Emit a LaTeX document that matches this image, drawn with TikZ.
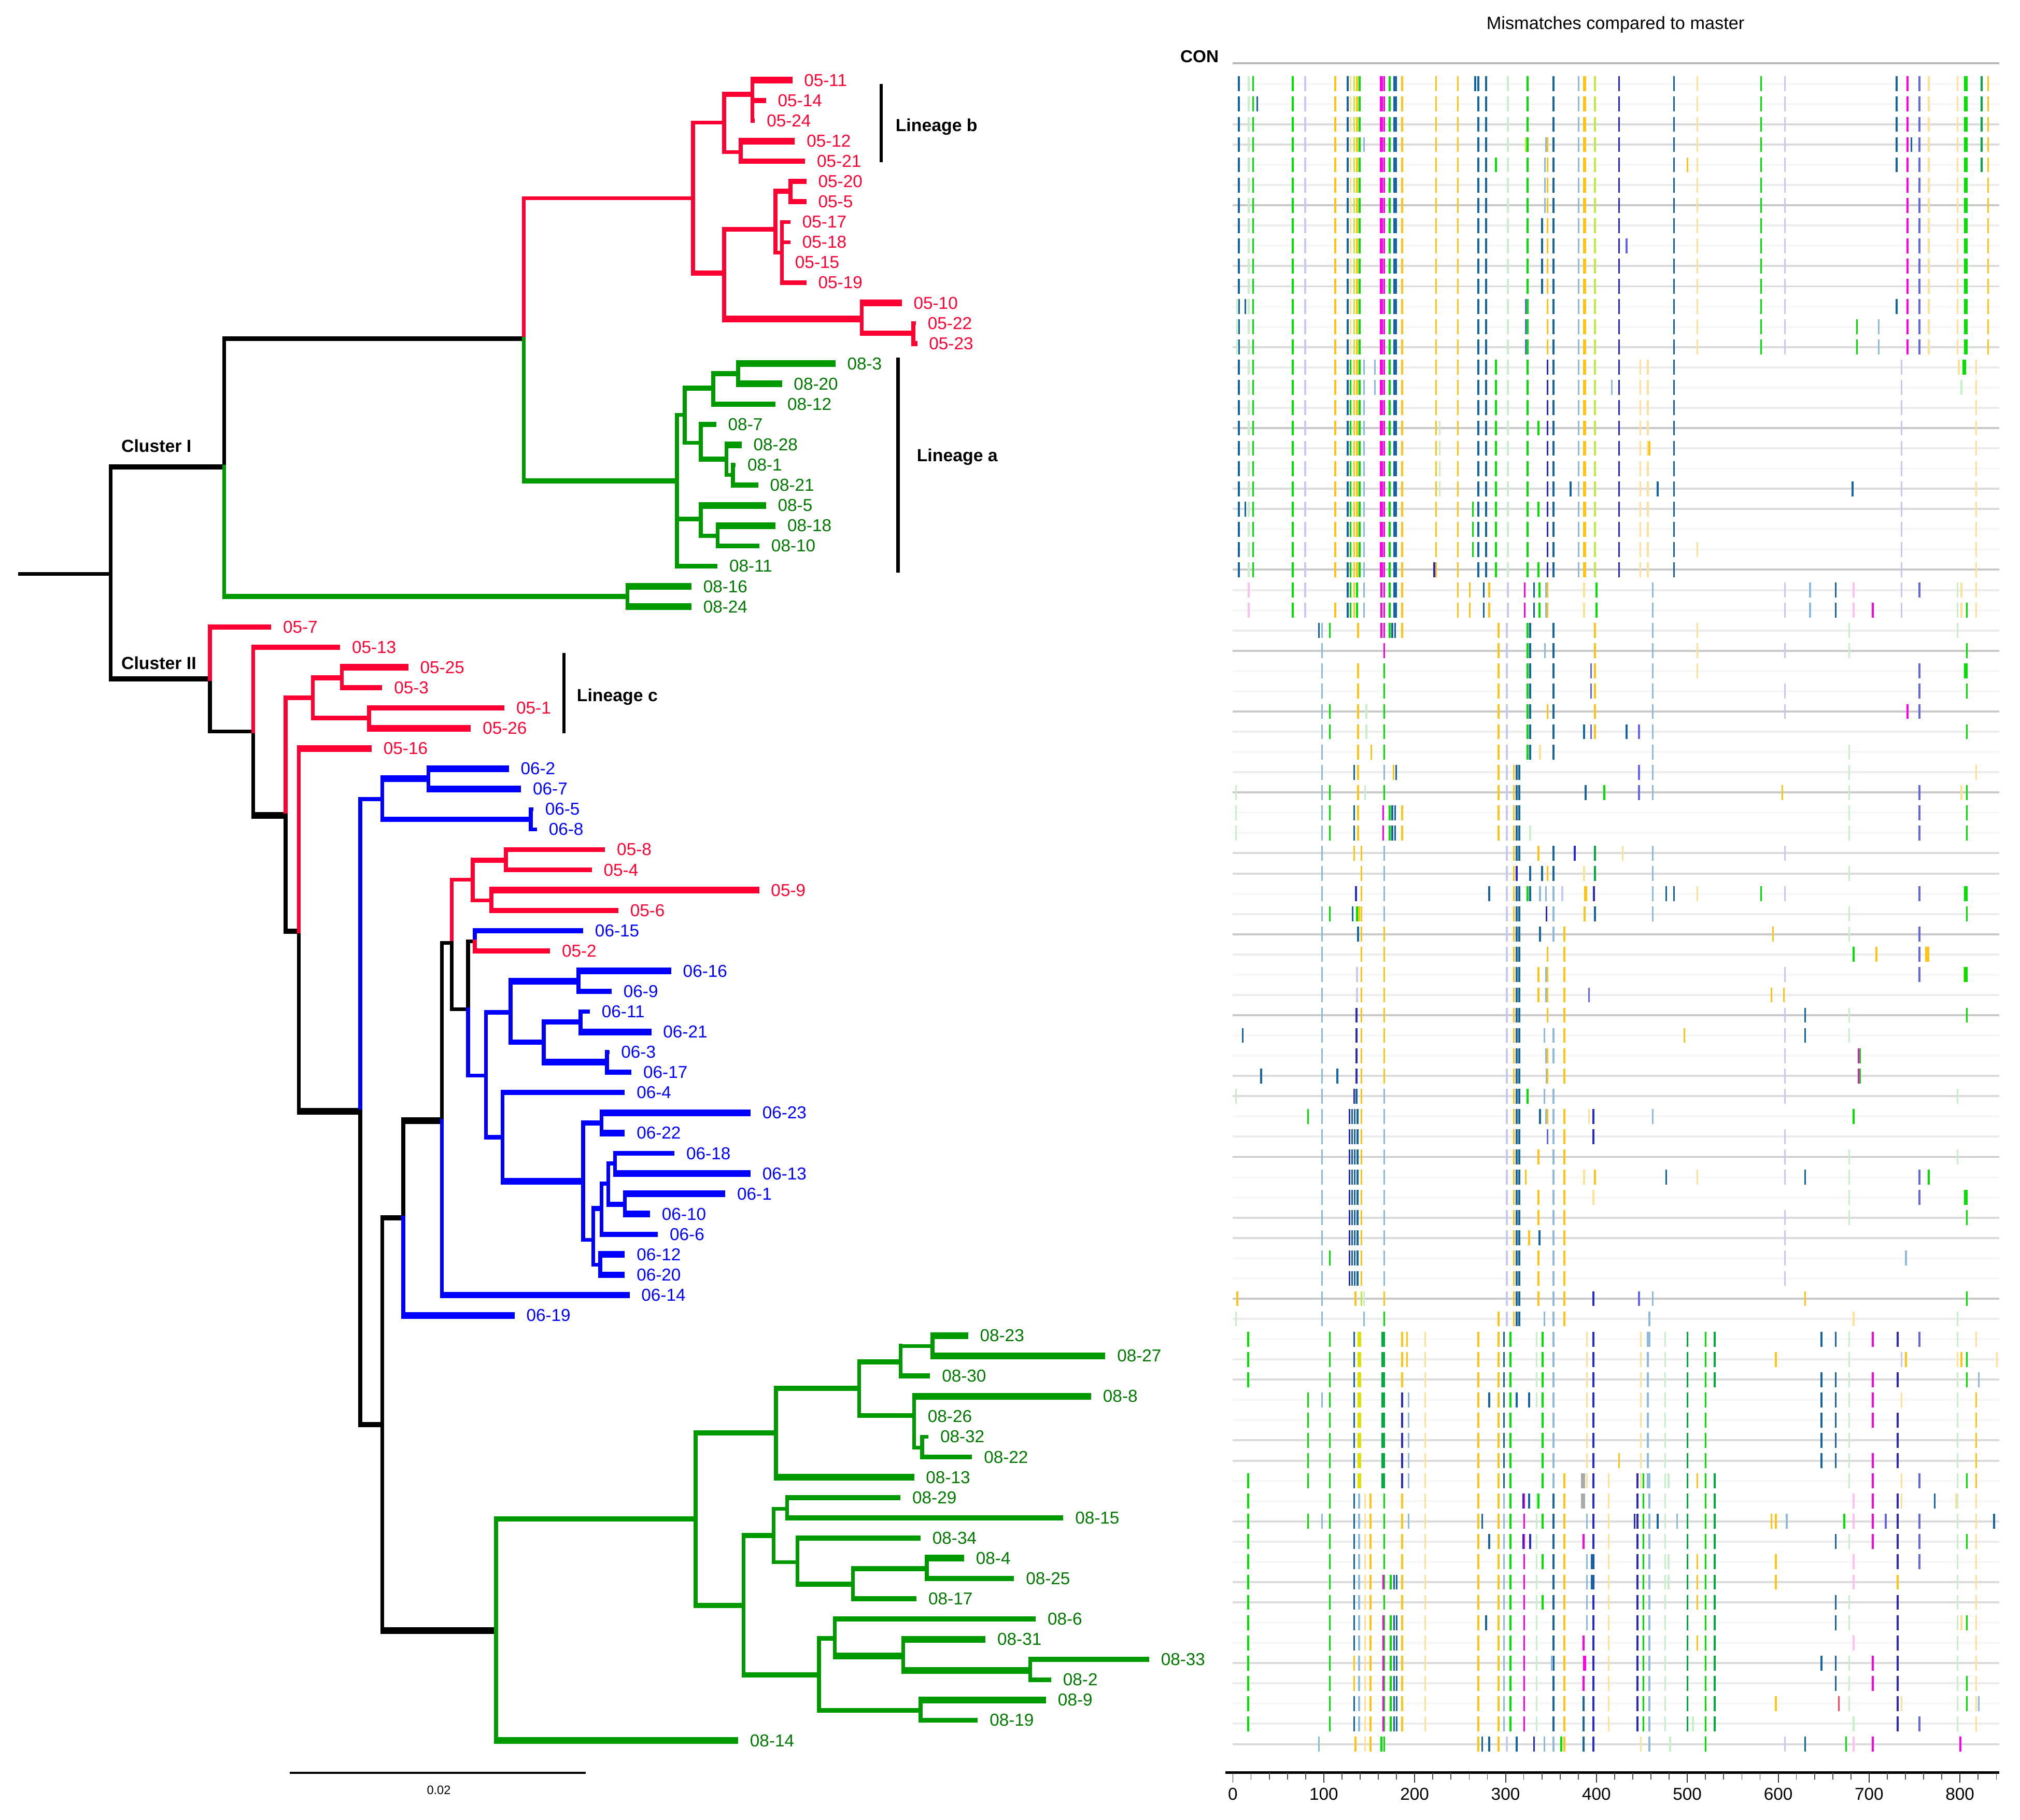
\documentclass[tikz,border=0pt]{standalone}
\usepackage{fontspec}
\setmainfont{Liberation Sans}
\usetikzlibrary{calc}
\definecolor{colR}{RGB}{255,0,51}
\definecolor{colB}{RGB}{0,0,255}
\definecolor{colG}{RGB}{0,153,0}
\definecolor{colGt}{RGB}{0,120,0}
\definecolor{kDB}{RGB}{20,100,165}
\definecolor{kG}{RGB}{0,225,0}
\definecolor{kPG}{RGB}{200,240,200}
\definecolor{kLV}{RGB}{200,200,245}
\definecolor{kY}{RGB}{255,195,20}
\definecolor{kPY}{RGB}{255,225,150}
\definecolor{kYG}{RGB}{190,235,60}
\definecolor{kM}{RGB}{255,0,230}
\definecolor{kIN}{RGB}{40,40,200}
\definecolor{kLB}{RGB}{140,185,220}
\definecolor{kPU}{RGB}{100,100,235}
\definecolor{kDG}{RGB}{0,170,60}
\definecolor{kYL}{RGB}{225,225,0}
\definecolor{kPM}{RGB}{255,190,240}
\definecolor{kGR}{RGB}{170,170,170}
\definecolor{kRd}{RGB}{250,70,90}
\newcommand\br[4]{\draw[#1,vln] (#3) -- (#3|-#4);\draw[#1,#2,hln] ($(#3|-#4)+(-1.5,0)$) -- (#4);}
\newcommand\lf[7]{\coordinate (l#1) at (#2,{ly(#1)});\br{#5}{#6}{#7}{l#1}\node[lab,text=#4] (t#1) at ($(l#1)+(9,0)$) {#3};}
\newcommand\LR[5]{\lf{#1}{#2}{#3}{colR}{cR}{#4}{#5}}
\newcommand\LB[5]{\lf{#1}{#2}{#3}{colB}{cB}{#4}{#5}}
\newcommand\LG[5]{\lf{#1}{#2}{#3}{colGt}{cG}{#4}{#5}}
\newcommand\mrow[2]{\edef\mylist{#2}\foreach \mx/\mc in \mylist {\draw[mk,m\mc] ({905.4+0.4227*\mx},{ly(#1)-3}) -- ++(0,11.6);}}
\def\tmplA{133/DB,151/PG,159/G,232/G,255/LV,310/Y,333/DB,338/PY,345/YG,350/Y,355/G,395/MW,400/M,410/G,420/DBW,433/Y,495/Y,535/Y,573/DB,587/DB,627/PG,663/G,711/DB,757/LB,768/YW,787/YG,831/IN,932/DB,975/PY,1092/G,1136/LV,1361/M,1383/PU,1400/PY,1453/PY,1468/GW,1509/Y}
\def\tmplB{133/DB,151/PG,159/G,232/G,255/LV,310/Y,333/DB,338/G,345/Y,350/Y,355/G,363/LB,395/MW,400/M,410/G,420/DBW,433/Y,495/Y,535/Y,573/DB,587/DB,605/G,627/PG,663/G,700/IN,711/DB,757/LB,768/YW,787/YG,831/IN,870/PY,884/PY,932/DB,1350/LV,1487/PY}
\def\tmplE{151/PM,232/G,255/LV,333/DB,338/G,345/Y,350/G,363/LB,395/M,400/M,410/G,420/DBW,433/Y,535/Y,557/Y,583/DB,593/Y,627/LV,658/M,675/DB,685/G,697/LB,700/Y,767/PY,790/G,893/LB,1136/LV,1182/LB,1229/DB,1262/PM,1350/LV,1453/PG,1460/PY,1487/PY}
\def\tmplF{286/LB,358/Y,400/Y,625/LV,638/Y,643/DB,648/DB,731/Y}
\def\BK{336/IN,341/DB,346/DB,351/DB,358/Y}
\def\tmplC{286/LB,\BK,400/LB,625/LV,638/Y,643/DB,648/DB,711/LB,731/Y}
\def\tmplDa{150/G,300/G,345/DB,354/YLW,398/DGW,433/Y,475/PY,573/Y,610/Y,620/DB,632/G,680/PG,691/G,711/LB,772/PY,784/IN,871/PY,884/LB,916/PG,957/DG,990/G,1007/DG,1254/PG}
\def\tmplDb{260/G,300/G,345/DB,354/YLW,398/DGW,433/IN,445/LB,475/PY,573/Y,610/Y,620/DB,632/G,691/G,711/LB,772/PY,784/IN,871/PY,884/LB,916/PG,957/DG,990/G,1254/PG,1453/PG,1487/Y}
\def\tmplDc{150/G,300/G,345/DB,354/LB,365/PY,375/Y,400/G,433/Y,475/PY,573/Y,610/Y,620/LB,632/G,657/M,680/PG,711/DB,731/Y,784/IN,812/PY,865/IN,876/G,887/LB,916/PG,957/DG,990/G,1007/DG,1343/IN,1453/PG,1487/PY}
\begin{document}
\begin{tikzpicture}[x=1pt,y=-1pt,
  declare function={ly(\i)=46.58+15.72*\i;},
  font=\fontsize{13.4}{16}\selectfont,
  lab/.style={inner sep=0pt,anchor=west},
  labb/.style={inner sep=0pt,anchor=west,font=\fontsize{13.6}{16}\selectfont\bfseries},
  vln/.style={line width=3pt,line cap=rect},
  hln/.style={line cap=butt},
  wb/.style={line width=5.2pt},
  wm/.style={line width=3.9pt},
  wt/.style={line width=2.9pt},
  cR/.style={draw=colR},cB/.style={draw=colB},cG/.style={draw=colG},cK/.style={draw=black},
  bar/.style={line width=2.6pt,draw=black},
  mk/.style={line width=1.4pt},
  mDB/.style={draw=kDB},mDBW/.style={draw=kDB,line width=2.6pt},
  mG/.style={draw=kG},mGW/.style={draw=kG,line width=2.8pt},
  mPG/.style={draw=kPG},mLV/.style={draw=kLV},
  mY/.style={draw=kY},mYW/.style={draw=kY,line width=2.6pt},
  mPY/.style={draw=kPY},mYG/.style={draw=kYG},
  mM/.style={draw=kM},mMW/.style={draw=kM,line width=2.6pt},
  mIN/.style={draw=kIN},mLB/.style={draw=kLB},mPU/.style={draw=kPU},
  mDG/.style={draw=kDG},mDGW/.style={draw=kDG,line width=2.6pt},
  mYL/.style={draw=kYL},mYLW/.style={draw=kYL,line width=2.8pt},
  mPM/.style={draw=kPM},mGRW/.style={draw=kGR,line width=3pt},mRd/.style={draw=kRd}]
\useasboundingbox (0,0) rectangle (1568,1413);
% ---------- tree: internal nodes ----------
\coordinate (s) at (14,445.5);
\coordinate (R) at (86,445.5);
\coordinate (C1) at (174,362.5);
\coordinate (C2) at (163,527);
\coordinate (n1) at (406.5,263);
\coordinate (g1) at (487,463);
\coordinate (r1) at (538,154);
\coordinate (ga) at (525.5,373.5);
\coordinate (r2) at (562,95.3);
\coordinate (r3) at (562,212);
\coordinate (r4) at (584,73.3);
\coordinate (r5) at (575,118);
\coordinate (r6) at (602,178);
\coordinate (r7) at (669,247.8);
\coordinate (r8) at (613.6,148.6);
\coordinate (r9) at (607,196);
\coordinate (r10) at (709,258.8);
\coordinate (a1) at (531.6,322);
\coordinate (a2) at (544,403);
\coordinate (a3) at (553.6,301.5);
\coordinate (a4) at (544,343.8);
\coordinate (a5) at (573,290.2);
\coordinate (a6) at (564,356.5);
\coordinate (a7) at (569,368.8);
\coordinate (a8) at (557,416);
\coordinate (k1) at (196.6,568);
\coordinate (k2) at (221.7,633);
\coordinate (c1) at (242.8,541.8);
\coordinate (c2) at (265.4,526.3);
\coordinate (c3) at (286.4,557.5);
\coordinate (k3) at (232,723);
\coordinate (k4) at (279.7,863);
\coordinate (b1) at (296.7,620.4);
\coordinate (b2) at (332.6,604.6);
\coordinate (b3) at (412,636);
\coordinate (k5) at (296.7,1106);
\coordinate (k6) at (313,945.6);
\coordinate (k7) at (385,1266);
\coordinate (k8) at (343,870);
\coordinate (k9) at (350.6,732);
\coordinate (rr) at (367,683);
\coordinate (r11) at (392.7,668);
\coordinate (r12) at (381.4,699);
\coordinate (k10) at (363.4,783.6);
\coordinate (k11) at (368.5,731);
\coordinate (bb) at (377.3,835);
\coordinate (b4) at (396.3,786);
\coordinate (b5) at (390,883);
\coordinate (b6) at (449,762);
\coordinate (b7) at (422,809.2);
\coordinate (b8) at (450.7,793.5);
\coordinate (b9) at (471.2,824.8);
\coordinate (P) at (452.7,917);
\coordinate (b10) at (467,872);
\coordinate (Q) at (460.4,962.7);
\coordinate (Rn) at (467,938.4);
\coordinate (S) at (472.2,919);
\coordinate (T) at (477.4,903.3);
\coordinate (U) at (485,935);
\coordinate (V) at (466,982);
\coordinate (G1) at (540,1179.4);
\coordinate (G2) at (602.4,1112.6);
\coordinate (G3) at (577.2,1246.6);
\coordinate (G4) at (667,1078);
\coordinate (G5) at (699,1057.5);
\coordinate (G6) at (709.6,1099);
\coordinate (G7) at (723.8,1045);
\coordinate (G8) at (715.8,1124);
\coordinate (G9) at (600.6,1192.2);
\coordinate (G10) at (635.7,1300.5);
\coordinate (G11) at (611,1171.5);
\coordinate (G12) at (619,1213);
\coordinate (G13) at (662,1230);
\coordinate (G14) at (719.5,1218);
\coordinate (G15) at (648,1272);
\coordinate (G16) at (701,1285.7);
\coordinate (G17) at (799.6,1297);
\coordinate (G18) at (714.6,1328);
% ---------- internal branches ----------
\draw[cK,wt] (s) -- (R);
\br{cK}{wm}{R}{C1}
\br{cK}{wm}{R}{C2}
\br{cK}{wm}{C1}{n1}
\br{cG}{wm}{C1}{g1}
\br{cR}{wt}{n1}{r1}
\br{cG}{wm}{n1}{ga}
\br{cR}{wt}{r1}{r2}
\br{cR}{wm}{r1}{r3}
\br{cR}{wm}{r2}{r4}
\br{cR}{wt}{r2}{r5}
\br{cR}{wm}{r3}{r6}
\br{cR}{wb}{r3}{r7}
\br{cR}{wm}{r6}{r8}
\br{cR}{wt}{r6}{r9}
\br{cR}{wm}{r7}{r10}
\br{cG}{wt}{ga}{a1}
\br{cG}{wm}{ga}{a2}
\br{cG}{wm}{a1}{a3}
\br{cG}{wt}{a1}{a4}
\br{cG}{wm}{a3}{a5}
\br{cG}{wm}{a4}{a6}
\br{cG}{wt}{a6}{a7}
\br{cG}{wt}{a2}{a8}
\br{cK}{wt}{C2}{k1}
\br{cK}{wb}{k1}{k2}
\br{cR}{wm}{k2}{c1}
\br{cK}{wm}{k2}{k3}
\br{cR}{wm}{c1}{c2}
\br{cR}{wm}{c1}{c3}
\br{cK}{wb}{k3}{k4}
\br{cB}{wt}{k4}{b1}
\br{cK}{wm}{k4}{k5}
\br{cB}{wb}{b1}{b2}
\br{cB}{wm}{b1}{b3}
\br{cK}{wm}{k5}{k6}
\br{cK}{wb}{k5}{k7}
\br{cK}{wb}{k6}{k8}
\br{cK}{wt}{k8}{k9}
\br{cR}{wt}{k9}{rr}
\br{cK}{wt}{k9}{k10}
\br{cR}{wm}{rr}{r11}
\br{cR}{wt}{rr}{r12}
\br{cK}{wt}{k10}{k11}
\br{cB}{wt}{k10}{bb}
\br{cB}{wm}{bb}{b4}
\br{cB}{wm}{bb}{b5}
\br{cB}{wb}{b4}{b6}
\br{cB}{wm}{b4}{b7}
\br{cB}{wm}{b7}{b8}
\br{cB}{wb}{b7}{b9}
\br{cB}{wb}{b5}{P}
\br{cB}{wm}{P}{b10}
\br{cB}{wt}{P}{Q}
\br{cB}{wm}{Q}{Rn}
\br{cB}{wt}{Q}{V}
\br{cB}{wt}{Rn}{S}
\br{cB}{wt}{S}{T}
\br{cB}{wm}{S}{U}
\br{cG}{wm}{k7}{G1}
\br{cG}{wm}{G1}{G2}
\br{cG}{wm}{G1}{G3}
\br{cG}{wm}{G2}{G4}
\br{cG}{wm}{G4}{G5}
\br{cG}{wm}{G4}{G6}
\br{cG}{wt}{G5}{G7}
\br{cG}{wt}{G6}{G8}
\br{cG}{wm}{G3}{G9}
\br{cG}{wm}{G3}{G10}
\br{cG}{wt}{G9}{G11}
\br{cG}{wt}{G9}{G12}
\br{cG}{wm}{G12}{G13}
\br{cG}{wm}{G13}{G14}
\br{cG}{wm}{G10}{G15}
\br{cG}{wm}{G10}{G18}
\br{cG}{wb}{G15}{G16}
\br{cG}{wb}{G16}{G17}
% ---------- leaves ----------
\LR{1}{615}{05-11}{wb}{r4}
\LR{2}{594.6}{05-14}{wm}{r4}
\LR{3}{586}{05-24}{wt}{r4}
\LR{4}{617}{05-12}{wb}{r5}
\LR{5}{625}{05-21}{wm}{r5}
\LR{6}{626}{05-20}{wm}{r8}
\LR{7}{626}{05-5}{wm}{r8}
\LR{8}{613.6}{05-17}{wt}{r9}
\LR{9}{613.6}{05-18}{wt}{r9}
\LR{10}{608}{05-15}{wt}{r9}
\LR{11}{626}{05-19}{wm}{r9}
\LR{12}{700}{05-10}{wb}{r7}
\LR{13}{711}{05-22}{wt}{r10}
\LR{14}{712}{05-23}{wm}{r10}
\LG{15}{648.5}{08-3}{wb}{a5}
\LG{16}{607}{08-20}{wb}{a5}
\LG{17}{602}{08-12}{wm}{a3}
\LG{18}{556}{08-7}{wm}{a4}
\LG{19}{575.7}{08-28}{wb}{a6}
\LG{20}{571}{08-1}{wt}{a7}
\LG{21}{588.5}{08-21}{wm}{a7}
\LG{22}{594.6}{08-5}{wb}{a2}
\LG{23}{602}{08-18}{wb}{a8}
\LG{24}{589.5}{08-10}{wm}{a8}
\LG{25}{557}{08-11}{wm}{ga}
\LG{26}{536.7}{08-16}{wb}{g1}
\LG{27}{536.7}{08-24}{wb}{g1}
\LR{28}{210.5}{05-7}{wm}{C2}
\LR{29}{264}{05-13}{wm}{k1}
\LR{30}{317}{05-25}{wb}{c2}
\LR{31}{296.7}{05-3}{wm}{c2}
\LR{32}{391.6}{05-1}{wm}{c3}
\LR{33}{365.5}{05-26}{wb}{c3}
\LR{34}{288.5}{05-16}{wb}{k3}
\LB{35}{395}{06-2}{wb}{b2}
\LB{36}{404.5}{06-7}{wb}{b2}
\LB{37}{414}{06-5}{wt}{b3}
\LB{38}{416.8}{06-8}{wt}{b3}
\LR{39}{469.7}{05-8}{wm}{r11}
\LR{40}{459.4}{05-4}{wm}{r11}
\LR{41}{589.3}{05-9}{wb}{r12}
\LR{42}{480}{05-6}{wm}{r12}
\LB{43}{452.7}{06-15}{wm}{k11}
\LR{44}{427}{05-2}{wm}{k11}
\LB{45}{521}{06-16}{wb}{b6}
\LB{46}{474.8}{06-9}{wm}{b6}
\LB{47}{457.9}{06-11}{wt}{b8}
\LB{48}{505.6}{06-21}{wb}{b8}
\LB{49}{473}{06-3}{wt}{b9}
\LB{50}{490.2}{06-17}{wm}{b9}
\LB{51}{485}{06-4}{wm}{b5}
\LB{52}{582.6}{06-23}{wb}{b10}
\LB{53}{485}{06-22}{wb}{b10}
\LB{54}{523.6}{06-18}{wm}{T}
\LB{55}{582.6}{06-13}{wb}{T}
\LB{56}{563}{06-1}{wb}{U}
\LB{57}{504.6}{06-10}{wb}{U}
\LB{58}{510.7}{06-6}{wm}{Rn}
\LB{59}{485}{06-12}{wb}{V}
\LB{60}{485}{06-20}{wb}{V}
\LB{61}{488.7}{06-14}{wb}{k8}
\LB{62}{399.4}{06-19}{wb}{k6}
\LG{63}{751.5}{08-23}{wb}{G7}
\LG{64}{858}{08-27}{wb}{G7}
\LG{65}{722}{08-30}{wm}{G5}
\LG{66}{847}{08-8}{wb}{G6}
\LG{67}{711}{08-26}{wt}{G6}
\LG{68}{720.7}{08-32}{wt}{G8}
\LG{69}{754.6}{08-22}{wm}{G8}
\LG{70}{709.6}{08-13}{wb}{G2}
\LG{71}{699}{08-29}{wm}{G11}
\LG{72}{825.4}{08-15}{wm}{G11}
\LG{73}{714.6}{08-34}{wm}{G12}
\LG{74}{748.4}{08-4}{wb}{G14}
\LG{75}{787.2}{08-25}{wm}{G14}
\LG{76}{711.5}{08-17}{wm}{G13}
\LG{77}{804}{08-6}{wm}{G15}
\LG{78}{765}{08-31}{wb}{G16}
\LG{79}{892}{08-33}{wm}{G17}
\LG{80}{816}{08-2}{wm}{G17}
\LG{81}{812}{08-9}{wb}{G18}
\LG{82}{759}{08-19}{wm}{G18}
\LG{83}{573}{08-14}{wb}{k7}
% ---------- tree annotations ----------
\node[labb] (cl1) at (94,346) {Cluster I};
\node[labb] (cl2) at (94,514.6) {Cluster II};
\coordinate (lbT) at (684,65); \coordinate (lbB) at (684,125.8);
\draw[bar] (lbT) -- (lbB);
\node[labb] (linb) at (695,98.7) {Lineage b};
\coordinate (laT) at (697,277.5); \coordinate (laB) at (697,444.6);
\draw[bar] (laT) -- (laB);
\node[labb] (lina) at (711.5,355) {Lineage a};
\coordinate (lcT) at (437.8,507); \coordinate (lcB) at (437.8,569.3);
\draw[bar] (lcT) -- (lcB);
\node[labb] (linc) at (447.6,541.1) {Lineage c};
\coordinate (sbL) at (224.8,1376.4); \coordinate (sbR) at (454.6,1376.4);
\draw[line width=1.6pt] (sbL) -- (sbR);
\node[inner sep=0pt,font=\fontsize{9.5}{11}\selectfont] (sbt) at (340.6,1390) {0.02};
% ---------- mismatch panel ----------
\node[inner sep=0pt,font=\fontsize{13.8}{16}\selectfont] (title) at (1254,19) {Mismatches compared to master};
\node[lab,font=\fontsize{13.4}{16}\selectfont\bfseries] (con) at (916,44) {CON};
\coordinate (conL) at (957,49); \coordinate (conR) at (1552,49);
\draw[line width=1.8pt,gray!55] (conL) -- (conR);
\foreach \i/\lv in {1/6,2/6,3/28,4/28,5/6,6/15,7/42,8/15,9/6,10/28,11/28,12/6,13/6,14/28,15/15,16/6,17/15,18/42,19/15,20/6,21/28,22/28,23/6,24/6,25/42,26/15,27/6,28/15,29/42,30/6,31/6,32/42,33/15,34/6,35/15,36/42,37/6,38/6,39/28,40/28,41/6,42/15,43/42,44/15,45/6,46/15,47/42,48/6,49/6,50/28,51/28,52/6,53/15,54/42,55/6,56/6,57/28,58/28,59/6,60/6,61/42,62/15,63/6,64/15,65/28,66/6,67/6,68/28,69/28,70/6,71/6,72/28,73/15,74/6,75/28,76/28,77/6,78/6,79/28,80/15,81/6,82/15,83/28}
  {\draw[line width=1.6pt,draw=gray!\lv] (957,{ly(\i)+2.8}) -- (1552,{ly(\i)+2.8});}
\mrow{1}{\tmplA,567/DB,1341/DB,1497/DG}
\mrow{2}{\tmplA,167/DB,1341/DB,1497/DG}
\mrow{3}{\tmplA,1341/DB,1497/DG}
\mrow{4}{\tmplA,363/LB,660/YG,697/LB,700/Y,1341/DB,1368/DB,1497/DG}
\mrow{5}{\tmplA,605/G,695/LB,700/Y,957/Y,1341/DB,1497/DG}
\mrow{6}{\tmplA,695/LB,700/Y}
\mrow{7}{\tmplA,695/LB,700/Y}
\mrow{8}{\tmplA,690/DB,700/Y}
\mrow{9}{\tmplA,690/DB,700/Y,845/PU}
\mrow{10}{\tmplA,690/DB,700/Y}
\mrow{11}{\tmplA,690/DB,700/Y}
\mrow{12}{\tmplA,130/PG,145/DB,660/PU,700/Y,1341/DB}
\mrow{13}{\tmplA,130/PG,660/PU,700/Y,1268/G,1308/LB}
\mrow{14}{\tmplA,130/PG,660/PU,700/Y,1268/G,1308/LB}
\mrow{15}{\tmplB,383/LB,1455/PY,1465/GW}
\mrow{16}{\tmplB,383/LB,818/LB,1460/PG}
\mrow{17}{\tmplB}
\mrow{18}{\tmplB,502/PG,683/G}
\mrow{19}{\tmplB,502/PG,887/Y}
\mrow{20}{\tmplB,502/PG}
\mrow{21}{\tmplB,502/PG,742/DB,902/DB,1260/DB}
\mrow{22}{\tmplB,145/DB,563/G,683/G}
\mrow{23}{\tmplB,563/G}
\mrow{24}{\tmplB,563/G,975/PY}
\mrow{25}{\tmplB,492/IN,683/G}
\mrow{26}{\tmplE,1383/PU}
\mrow{27}{\tmplE,310/Y,1297/M,1470/G}
\mrow{28}{280/DB,286/LB,300/G,352/Y,395/M,400/M,410/G,415/DB,420/DB,433/Y,610/Y,625/LV,663/G,668/DB,711/DB,787/Y,893/LB,975/PY,1254/PG,1453/PG}
\mrow{29}{286/LB,400/M,610/Y,625/LV,663/G,668/DB,695/LB,711/DB,787/Y,893/LB,975/PY,1136/LV,1254/PG,1470/G}
\mrow{30}{286/LB,352/Y,400/G,610/Y,625/LV,663/G,668/DB,711/DB,780/PU,787/Y,893/LB,975/PY,1383/PU,1468/GW}
\mrow{31}{286/LB,352/Y,400/G,610/Y,625/LV,663/G,668/DB,711/DB,780/PU,787/Y,893/LB,1136/LV,1383/PU,1470/G}
\mrow{32}{286/LB,300/G,352/Y,367/PG,400/G,610/Y,625/LV,663/G,668/DB,700/Y,711/DB,787/Y,893/LB,1136/LV,1361/M,1383/PU}
\mrow{33}{286/LB,300/G,352/Y,367/PG,400/G,610/Y,625/LV,663/G,668/DB,711/DB,767/DB,780/PU,787/Y,845/DB,868/PU,893/LB,1470/G}
\mrow{34}{286/LB,352/Y,376/Y,400/G,610/Y,625/LV,663/G,668/DB,686/PY,711/DB,893/LB,1254/PG}
\mrow{35}{286/LB,345/DB,352/Y,400/LB,417/Y,422/DB,610/Y,625/LV,638/Y,643/DB,648/DB,868/PU,893/LB,1254/PG,1487/PY}
\mrow{36}{128/PG,286/LB,300/G,352/Y,365/PG,400/G,610/Y,625/LV,638/Y,643/DB,648/DB,770/DB,804/G,868/PU,893/LB,1131/Y,1254/PG,1383/PU,1460/PY,1470/G}
\mrow{37}{128/PG,286/LB,300/G,345/DB,352/Y,398/M,410/G,415/DB,420/DB,433/Y,610/Y,625/LV,638/Y,643/DB,648/DB,1254/PG,1383/PU,1470/G}
\mrow{38}{128/PG,286/LB,300/G,345/DB,352/Y,398/M,410/G,415/DB,420/DB,433/Y,610/Y,625/LV,638/Y,643/DB,648/DB,668/PG,1254/PG,1383/PU,1470/G}
\mrow{39}{286/LB,345/Y,358/Y,400/LB,625/LV,638/Y,643/DB,648/DB,683/Y,711/DB,750/IN,787/DG,838/PY,893/LB,1136/LV}
\mrow{40}{286/LB,358/Y,400/LB,625/LV,638/Y,643/IN,668/DB,690/DB,700/Y,711/DB,767/PY,787/DG,893/LB,1254/PG}
\mrow{41}{286/LB,348/IN,358/Y,400/LB,593/DB,625/LV,638/Y,643/DB,648/DB,663/G,668/DB,686/LB,697/LB,711/LB,727/LV,770/YW,785/IN,893/LB,918/DB,932/DB,975/PY,1092/G,1136/LV,1383/PU,1468/GW}
\mrow{42}{286/LB,300/G,342/DB,350/G,354/Y,358/Y,400/LB,625/LV,638/Y,643/DB,648/DB,698/IN,711/LB,768/Y,787/DB,893/LB,1254/PG,1470/G}
\mrow{43}{\tmplF,352/DB,686/DB,711/LB,1114/Y,1254/PG,1383/PU}
\mrow{44}{\tmplF,700/Y,1262/G,1304/Y,1383/PU,1395/Y,1399/Y}
\mrow{45}{\tmplF,350/LV,683/Y,697/LB,700/Y,1136/LV,1383/PU,1465/Y,1468/GW}
\mrow{46}{\tmplF,350/LV,683/Y,697/LB,700/Y,776/PU,1111/Y,1134/Y}
\mrow{47}{\tmplF,349/IN,700/Y,1136/LV,1173/DB,1254/PG,1470/G}
\mrow{48}{\tmplF,140/DB,349/IN,694/LB,711/LB,951/Y,1136/LV,1173/DB,1254/PG}
\mrow{49}{\tmplF,349/IN,697/LB,700/Y,711/LB,1136/LV,1271/M,1274/G}
\mrow{50}{\tmplF,174/DB,314/DB,349/IN,698/LB,700/Y,1136/LV,1271/M,1274/G}
\mrow{51}{128/PG,286/LB,345/IN,349/DB,358/Y,400/LB,625/LV,638/Y,643/DB,648/DB,663/G,694/LB,711/LB,1136/LV,1453/PG}
\mrow{52}{\tmplC,260/G,686/DB,697/LB,700/Y,776/PY,784/IN,893/LB,1262/G}
\mrow{53}{\tmplC,700/PU,784/IN,1136/LV}
\mrow{54}{\tmplC,683/Y,1136/LV,1254/PG,1453/PG}
\mrow{55}{\tmplC,660/Y,767/PY,787/Y,918/DB,975/PY,1136/LV,1173/DB,1254/PG,1383/PU,1400/G}
\mrow{56}{\tmplC,683/Y,784/PY,1254/PG,1383/PU,1468/GW}
\mrow{57}{\tmplC,683/Y,1136/LV,1254/PG,1470/G}
\mrow{58}{\tmplC,666/Y,685/DB,1136/LV}
\mrow{59}{\tmplC,300/G,683/Y,1136/LV,1358/LB}
\mrow{60}{\tmplC,683/Y,1136/LV}
\mrow{61}{130/Y,286/LB,347/Y,358/YG,363/PG,400/Y,625/LV,638/Y,643/DB,648/DB,683/Y,711/LB,731/Y,784/IN,868/PU,893/LB,1173/Y,1470/G}
\mrow{62}{128/PG,286/LB,363/LB,400/G,610/Y,625/LV,638/Y,643/DB,648/DB,694/LB,711/LB,731/Y,887/LB,1262/PY,1453/PG}
\mrow{63}{\tmplDa,442/Y,887/LB,1203/DB,1229/DB,1297/M,1343/IN,1383/PU,1453/PG,1487/PY}
\mrow{64}{\tmplDa,442/Y,1119/Y,1350/LV,1358/Y,1453/PY,1460/Y,1470/G,1525/PY}
\mrow{65}{\tmplDa,1203/DB,1229/DB,1297/M,1343/IN,1453/PG,1470/G,1492/LB}
\mrow{66}{\tmplDb,286/LB,593/DB,643/DB,666/DB,680/PG,1203/DB,1229/DB,1297/M,1350/PY}
\mrow{67}{\tmplDb,1203/DB,1229/DB,1297/M,1343/IN}
\mrow{68}{\tmplDb,1203/DB,1229/DB,1343/IN}
\mrow{69}{\tmplDb,831/Y,1203/DB,1229/DB,1297/M,1343/IN}
\mrow{70}{\tmplDb,150/G,731/Y,765/GRW,812/PY,865/IN,876/G,887/LB,922/PG,975/Y,1007/DG,1297/M,1350/PY,1383/PU,1470/G}
\mrow{71}{\tmplDc,655/IN,666/DB,683/G,765/GRW,1262/PM,1297/M,1350/PY,1411/DB,1450/PY}
\mrow{72}{\tmplDc,260/G,286/LB,445/LB,580/DB,691/G,772/LB,860/IN,902/DB,938/LB,1111/Y,1119/Y,1139/LB,1245/G,1262/PM,1297/M,1321/PU,1383/PU,1520/DB}
\mrow{73}{\tmplDc,593/DB,655/IN,668/IN,766/M,1229/DB,1254/PG,1297/M,1383/PU,1470/G}
\mrow{74}{\tmplDc,691/G,772/LB,782/DBW,922/PG,975/Y,1119/Y,1262/PM,1383/PU}
\mrow{75}{\tmplDc,398/M,412/G,418/DB,423/DB,772/LB,782/DBW,922/PG,975/Y,1119/Y,1262/PM,1343/Y}
\mrow{76}{\tmplDc,691/G,772/LB,975/Y,1229/DB,1254/PG}
\mrow{77}{\tmplDc,398/M,412/G,418/DB,423/DB,587/DB,772/LB,1229/DB,1254/PG,1460/PY,1470/G}
\mrow{78}{\tmplDc,398/M,412/G,418/DB,423/DB,766/M,975/Y,1262/PM}
\mrow{79}{\tmplDc,345/Y,398/M,412/G,418/DB,423/DB,708/LB,768/MW,1203/DB,1229/DB,1254/PG,1297/M}
\mrow{80}{\tmplDc,345/Y,398/M,412/G,418/DB,423/DB,766/M,1229/DB,1254/PG,1297/M,1470/G}
\mrow{81}{\tmplDc,398/M,412/G,418/DB,423/DB,766/DB,1119/Y,1235/Rd,1254/PG,1350/PY,1470/G,1492/LB}
\mrow{82}{\tmplDc,398/M,412/G,418/DB,423/DB,766/DB,967/PG,1262/PG,1383/PU}
\mrow{83}{280/LB,347/Y,365/PY,375/Y,395/G,400/G,573/Y,580/DB,593/DB,610/Y,625/LV,643/DB,675/IN,694/LB,711/LB,725/G,731/Y,766/DB,784/IN,871/PY,887/LB,925/PG,990/G,1136/LV,1173/DB,1248/G,1262/PM,1297/M,1458/M}
% ---------- axis ----------
\coordinate (ax0) at (951,1376.4); \coordinate (ax1) at (1552,1376.4);
\draw[line width=2pt] (ax0) -- (ax1);
\foreach \u in {0,20,...,840} {\draw[line width=0.7pt,draw=gray!60!black] ({957+0.7055*\u},1376.4) -- ++(0,5.4);}
\foreach \u in {0,100,...,800} {\draw[line width=0.8pt,draw=black!80] ({957+0.7055*\u},1376.4) -- ++(0,7.6);}
\foreach \u in {0,100,...,800} {\node[inner sep=0pt] (ax\u) at ({957+0.7055*\u},1392.9) {\u};}
\end{tikzpicture}
\end{document}
